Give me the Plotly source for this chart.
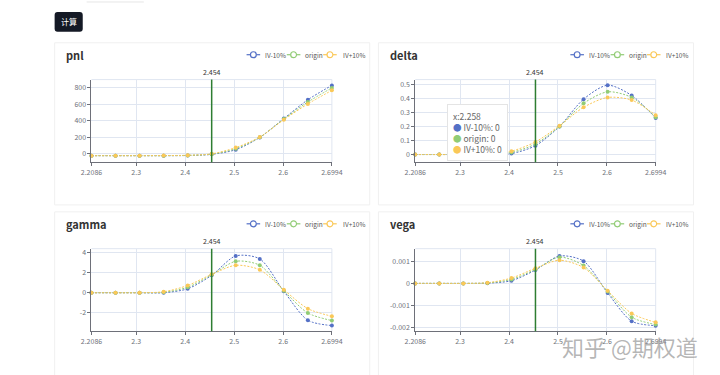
import plotly.graph_objects as go

# ---------------- data ----------------
XS = [2.2086, 2.2577, 2.3068, 2.3559, 2.4050, 2.4540, 2.5031, 2.5522, 2.6013, 2.6504, 2.6994]
X_TICKS = [2.2086, 2.3, 2.4, 2.5, 2.6, 2.6994]
X_TICK_LABELS = ["2.2086", "2.3", "2.4", "2.5", "2.6", "2.6994"]
MARK_X = 2.454
SERIES = ["IV-10%", "origin", "IV+10%"]

pnl_lo = [-22, -22, -22, -22, -20, -6, 50, 198, 425, 652, 825]
pnl_mid = [-22, -22, -22, -22, -19, -4, 62, 200, 420, 625, 795]
pnl_hi = [-22, -22, -22, -21, -17, 0, 75, 202, 412, 602, 765]

delta_lo = [0, 0, 0, 0, 0.007, 0.063, 0.200, 0.394, 0.493, 0.420, 0.260]
delta_mid = [0, 0, 0, 0.001, 0.015, 0.075, 0.200, 0.364, 0.446, 0.406, 0.265]
delta_hi = [0, 0, 0, 0.003, 0.024, 0.090, 0.205, 0.336, 0.406, 0.387, 0.280]

gamma_lo = [0, 0, 0, 0.0, 0.40, 1.75, 3.70, 3.40, 0.15, -2.77, -3.30]
gamma_mid = [0, 0, 0, 0.05, 0.55, 1.80, 3.16, 2.76, 0.20, -2.04, -2.80]
gamma_hi = [0, 0, 0, 0.10, 0.73, 1.85, 2.76, 2.30, 0.30, -1.60, -2.37]

vega_lo = [0, 0, 0, 0.00001, 0.00012, 0.00060, 0.00123, 0.00100, -0.00043, -0.00170, -0.00190]
vega_mid = [0, 0, 0, 0.00002, 0.00018, 0.00063, 0.00118, 0.00080, -0.00037, -0.00152, -0.00185]
vega_hi = [0, 0, 0, 0.00003, 0.00024, 0.00068, 0.00104, 0.00071, -0.00033, -0.00135, -0.00175]

pnl_ticks = [0, 200, 400, 600, 800]
pnl_tick_labels = ["0", "200", "400", "600", "800"]
delta_ticks = [0, 0.1, 0.2, 0.3, 0.4, 0.5]
delta_tick_labels = ["0", "0.1", "0.2", "0.3", "0.4", "0.5"]
gamma_ticks = [-2, 0, 2, 4]
gamma_tick_labels = ["-2", "0", "2", "4"]
vega_ticks = [-0.002, -0.001, 0, 0.001]
vega_tick_labels = ["-0.002", "-0.001", "0", "0.001"]

TOOLTIP_INDEX = 1

# ---------------- style ----------------
W, H = 720, 375
COLORS = ["#5470c6", "#91cc75", "#fac858"]
FONT = "Noto Sans CJK SC"
AXIS_C = "#6E7079"
GRID_C = "#E0E6F1"
MARK_C = "#2e7d32"


def px(x):
    return x / W


def py(y):
    return 1 - y / H


panels = [
    dict(title="pnl", L=45, T=42, data=[pnl_lo, pnl_mid, pnl_hi], yr=[-100, 895],
         yt=pnl_ticks, ytl=pnl_tick_labels),
    dict(title="delta", L=379, T=42, data=[delta_lo, delta_mid, delta_hi], yr=[-0.054, 0.533],
         yt=delta_ticks, ytl=delta_tick_labels),
    dict(title="gamma", L=45, T=212, data=[gamma_lo, gamma_mid, gamma_hi], yr=[-3.87, 4.43],
         yt=gamma_ticks, ytl=gamma_tick_labels),
    dict(title="vega", L=379, T=212, data=[vega_lo, vega_mid, vega_hi], yr=[-0.00215, 0.00156],
         yt=vega_ticks, ytl=vega_tick_labels),
]

fig = go.Figure()
shapes = []
annotations = []
layout = dict(
    width=W, height=H, margin=dict(l=0, r=0, t=0, b=0),
    paper_bgcolor="white", plot_bgcolor="rgba(0,0,0,0)",
    showlegend=False, font=dict(family=FONT, color="#333"),
)

# page decorations
shapes.append(dict(type="line", xref="paper", yref="paper", x0=px(78), x1=px(137), y0=py(1), y1=py(1),
                   line=dict(color="#e6e6e6", width=1)))
bx0, bx1, by0, by1, r = 45, 74, 11, 31, 3
path = (f"M {px(bx0 + r)} {py(by0)} L {px(bx1 - r)} {py(by0)} Q {px(bx1)} {py(by0)} {px(bx1)} {py(by0 + r)} "
        f"L {px(bx1)} {py(by1 - r)} Q {px(bx1)} {py(by1)} {px(bx1 - r)} {py(by1)} "
        f"L {px(bx0 + r)} {py(by1)} Q {px(bx0)} {py(by1)} {px(bx0)} {py(by1 - r)} "
        f"L {px(bx0)} {py(by0 + r)} Q {px(bx0)} {py(by0)} {px(bx0 + r)} {py(by0)} Z")
shapes.append(dict(type="path", xref="paper", yref="paper", path=path, fillcolor="#141925",
                   line=dict(width=0)))
annotations.append(dict(text="计算", x=px((bx0 + bx1) / 2), y=py((by0 + by1) / 2), xref="paper", yref="paper",
                        xanchor="center", yanchor="middle",
                        showarrow=False, font=dict(size=8, color="white", family=FONT)))

for i, p in enumerate(panels):
    n = i + 1
    sx = "" if n == 1 else str(n)
    L, T = p["L"], p["T"]
    card_bottom = T + 163 if T < 100 else H + 5
    shapes.append(dict(type="rect", xref="paper", yref="paper", x0=px(L), x1=px(L + 325),
                       y0=py(T), y1=py(card_bottom), fillcolor="white",
                       line=dict(color="#f0f0f0", width=1), layer="below"))
    x0, x1, y0, y1 = L + 38, L + 286, T + 37, T + 120
    layout["xaxis" + sx] = dict(
        domain=[px(x0), px(x1)], range=[XS[0], XS[-1]], anchor="y" + sx,
        tickvals=X_TICKS, ticktext=X_TICK_LABELS, showgrid=True, gridcolor=GRID_C, gridwidth=1,
        showline=True, linecolor=AXIS_C, linewidth=1, ticks="outside", ticklen=3, tickcolor=AXIS_C,
        tickfont=dict(size=7, color=AXIS_C, family=FONT), zeroline=False, fixedrange=True,
    )
    layout["yaxis" + sx] = dict(
        domain=[py(y1), py(y0)], range=p["yr"], anchor="x" + sx,
        tickvals=p["yt"], ticktext=p["ytl"], showgrid=True, gridcolor=GRID_C, gridwidth=1,
        showline=True, linecolor=AXIS_C, linewidth=1, ticks="outside", ticklen=3, tickcolor=AXIS_C,
        tickfont=dict(size=7, color=AXIS_C, family=FONT), zeroline=False, fixedrange=True,
    )
    shapes.append(dict(type="line", xref=f"x{sx} domain", yref=f"y{sx} domain", x0=0, x1=1, y0=1, y1=1,
                       line=dict(color=GRID_C, width=1), layer="below"))
    shapes.append(dict(type="line", xref=f"x{sx} domain", yref=f"y{sx} domain", x0=1, x1=1, y0=0, y1=1,
                       line=dict(color=GRID_C, width=1), layer="below"))
    for k, vals in enumerate(p["data"]):
        fig.add_trace(go.Scatter(
            x=XS, y=vals, mode="lines+markers", name=SERIES[k],
            line=dict(color=COLORS[k], width=1, dash="2px,1.5px", shape="spline", smoothing=0.8),
            marker=dict(size=4, color=COLORS[k]), xaxis="x" + sx, yaxis="y" + sx,
            hoverinfo="skip", cliponaxis=False,
        ))
    shapes.append(dict(type="line", xref="x" + sx, yref=f"y{sx} domain", x0=MARK_X, x1=MARK_X, y0=0, y1=1,
                       line=dict(color=MARK_C, width=1.5)))
    annotations.append(dict(text=f"{MARK_X}", x=MARK_X, xref="x" + sx, y=1, yref=f"y{sx} domain",
                            xanchor="center", yanchor="bottom", showarrow=False, yshift=1,
                            font=dict(size=7, color="#333", family=FONT)))
    annotations.append(dict(text=f"<b>{p['title']}</b>", x=px(L + 10), y=py(T + 12), xref="paper", yref="paper",
                            xanchor="left", yanchor="middle", showarrow=False,
                            font=dict(size=11, color="#333", family=FONT)))
    icon_c = [205, 246.5, 284]
    text_x = [215, 256, 295]
    ly = T + 12
    for k in range(3):
        cx = L + icon_c[k]
        shapes.append(dict(type="line", xref="paper", yref="paper", x0=px(cx - 7), x1=px(cx - 3),
                           y0=py(ly), y1=py(ly), line=dict(color=COLORS[k], width=1.2)))
        shapes.append(dict(type="line", xref="paper", yref="paper", x0=px(cx + 3), x1=px(cx + 7),
                           y0=py(ly), y1=py(ly), line=dict(color=COLORS[k], width=1.2)))
        shapes.append(dict(type="circle", xref="paper", yref="paper", x0=px(cx - 3), x1=px(cx + 3),
                           y0=py(ly + 3), y1=py(ly - 3), fillcolor="white",
                           line=dict(color=COLORS[k], width=1.2)))
        annotations.append(dict(text=SERIES[k], x=px(L + text_x[k]), y=py(ly), xref="paper", yref="paper",
                                xanchor="left", yanchor="middle", showarrow=False,
                                font=dict(size=6.5, color="#555", family=FONT)))

d = panels[1]["data"]
tip_lines = [f"x:{XS[TOOLTIP_INDEX]:.3f}"]
for k in range(3):
    tip_lines.append(f"<span style='color:{COLORS[k]}'>●</span> {SERIES[k]}: {d[k][TOOLTIP_INDEX]:g}")
annotations.append(dict(text="<br>".join(tip_lines), x=px(450), y=py(104), xref="paper", yref="paper",
                        xanchor="left", yanchor="top", align="left", showarrow=False,
                        bgcolor="white", bordercolor="#e4e4e4", borderwidth=1, borderpad=5,
                        font=dict(size=8.5, color="#666", family=FONT)))

annotations.append(dict(text="知乎 @期权道", x=px(638), y=py(347), xref="paper", yref="paper",
                        xanchor="center", yanchor="middle",
                        showarrow=False, font=dict(size=22, color="rgba(150,150,150,0.7)", family=FONT)))

layout["shapes"] = shapes
layout["annotations"] = annotations
fig.update_layout(**layout)
fig.write_html("out.html", config={"displayModeBar": False},
               post_script="document.body.style.margin='0';document.body.style.overflow='hidden';")
